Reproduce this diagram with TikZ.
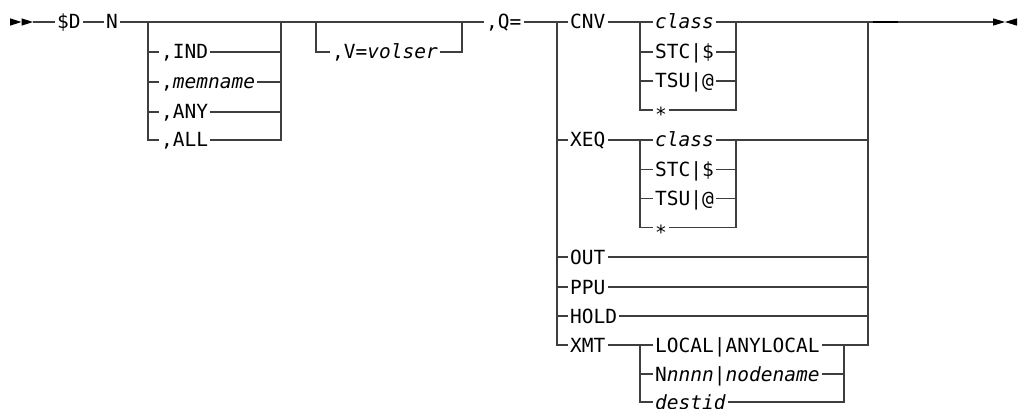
\documentclass[tikz,border=0pt]{standalone}
\usepackage{fontspec}
\setmonofont{DejaVu Sans Mono}
\usepackage{xcolor}
\definecolor{railgris}{RGB}{62,62,62}
\usepackage{tikz}

\begin{document}
\begin{tikzpicture}[
  x=1pt, y=-1pt,
  rail/.style={line width=1.3pt, draw=railgris},
  kw/.style={anchor=west, inner xsep=2pt, inner ysep=0pt, text height=14pt, text depth=0pt, font=\fontsize{19.5}{20}\selectfont\ttfamily},
  var/.style={kw, font=\fontsize{19.5}{20}\selectfont\ttfamily\itshape},
  tip/.style={fill=black}
]
\useasboundingbox (0,0) rectangle (1018,409);
% Start and end marks
\fill[tip] (10,18.3) -- (21.5,22) -- (10,25.7) -- cycle;
\fill[tip] (21.5,18.3) -- (33,22) -- (21.5,25.7) -- cycle;
\fill[tip] (993,18.3) -- (1005,22) -- (993,25.7) -- cycle;
\fill[tip] (1017,18.3) -- (1005,22) -- (1017,25.7) -- cycle;
\coordinate (start) at (33,22);
\coordinate (stop) at (993,22);
% Main line
\node[kw] (cmd) at (55,22) {\$D};
\node[kw] (n) at (104,22) {N};
\node[kw] (q) at (484,22) {,Q=};
\coordinate (mbl) at (148,22); \coordinate (mbr) at (281,22);
\coordinate (vbl) at (316,22); \coordinate (vbr) at (462,22);
\coordinate (qbl) at (557,22); \coordinate (qbr) at (868,22);
% Member choices
\node[kw] (ind) at (159,52) {,IND};
\node[kw] (mem) at (159,82) {,\textit{memname}};
\node[kw] (any) at (159,112) {,ANY};
\node[kw] (all) at (159,140) {,ALL};
% Volume
\node[kw] (vol) at (330,52) {,V=\textit{volser}};
% Queue choices
\node[kw] (cnv) at (568,22) {CNV};
\node[kw] (xeq) at (568,140) {XEQ};
\node[kw] (out) at (568,257) {OUT};
\node[kw] (ppu) at (568,287) {PPU};
\node[kw] (hold) at (568,316) {HOLD};
\node[kw] (xmt) at (568,345) {XMT};
% CNV and XEQ classes
\coordinate (cbl) at (640,22); \coordinate (cbr) at (736,22);
\node[var] (ccls) at (653,22) {class};
\node[kw] (cstc) at (653,52) {STC|\$};
\node[kw] (ctsu) at (653,81) {TSU|@};
\node[kw] (cstar) at (653,110) {\raisebox{-4.7pt}{*}};
\coordinate (xbl) at (640,140); \coordinate (xbr) at (736,140);
\node[var] (xcls) at (653,140) {class};
\node[kw] (xstc) at (653,169.5) {STC|\$};
\node[kw] (xtsu) at (653,198.5) {TSU|@};
\node[kw] (xstar) at (653,227.5) {\raisebox{-4.7pt}{*}};
% XMT destinations
\coordinate (tbl) at (640,345); \coordinate (tbr) at (844,345);
\node[kw] (tloc) at (653,345) {LOCAL|ANYLOCAL};
\node[kw] (tnod) at (653,374) {N\textit{nnnn}|\textit{nodename}};
\node[var] (tdst) at (653,402) {destid};
% Rails
\draw[rail] (start) -- (cmd) -- (n) -- (mbl) -- (mbr) -- (vbl) -- (vbr) -- (q) -- (qbl) -- (cnv) -- (cbl) -- (ccls) -- (cbr) -- (qbr) -- (stop);
\draw[rail] (mbl) |- (ind) -| (mbr);
\draw[rail] (mbl) |- (mem) -| (mbr);
\draw[rail] (mbl) |- (any) -| (mbr);
\draw[rail] (mbl) |- (all) -| (mbr);
\draw[rail] (vbl) |- (vol) -| (vbr);
\draw[rail] (cbl) |- (cstc) -| (cbr);
\draw[rail] (cbl) |- (ctsu) -| (cbr);
\draw[rail] (cbl) |- (cstar) -| (cbr);
\draw[rail] (qbl) |- (xeq) -- (xbl) -- (xcls) -- (xbr) -| (qbr);
\draw[rail] (xbl) |- (xstc) -| (xbr);
\draw[rail] (xbl) |- (xtsu) -| (xbr);
\draw[rail] (xbl) |- (xstar) -| (xbr);
\draw[rail] (qbl) |- (out) -| (qbr);
\draw[rail] (qbl) |- (ppu) -| (qbr);
\draw[rail] (qbl) |- (hold) -| (qbr);
\draw[rail] (qbl) |- (xmt) -- (tbl) -- (tloc) -- (tbr) -| (qbr);
\draw[rail] (tbl) |- (tnod) -| (tbr);
\draw[rail] (tbl) |- (tdst) -| (tbr);
\draw[line width=2.2pt] (873,22) -- (898,22);
\end{tikzpicture}
\end{document}
